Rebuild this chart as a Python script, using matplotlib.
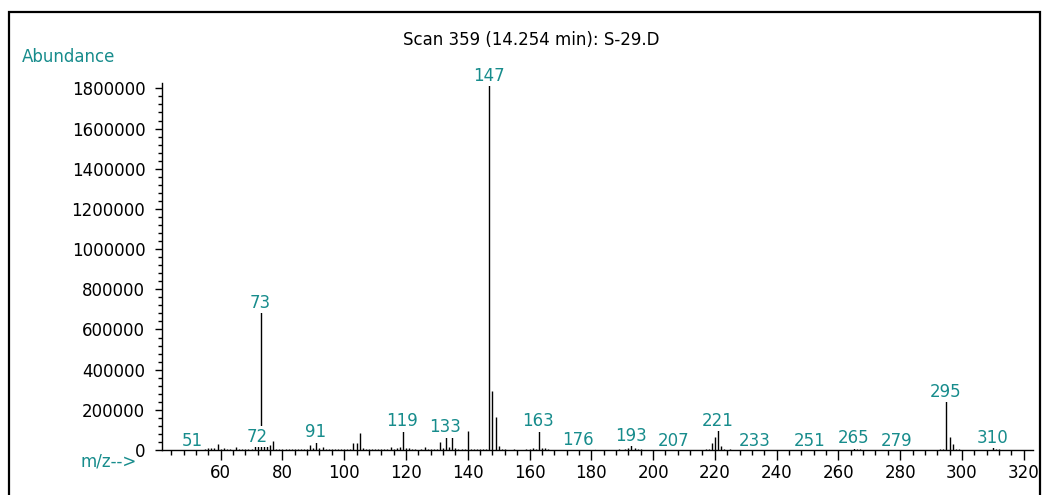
import matplotlib
matplotlib.use("Agg")
import matplotlib.pyplot as plt
from matplotlib.patches import Rectangle
from matplotlib.ticker import MultipleLocator

# Mass spectrum: m/z values and abundances
mz = [51, 55, 56, 57, 58, 59, 60, 61, 62, 63, 65, 66, 67, 68, 69, 70,
      71, 72, 73, 74, 75, 76, 77, 78, 79, 80, 81, 82, 83, 84, 85, 86, 87, 88,
      89, 90, 91, 92, 93, 94, 95, 96, 97, 98, 99, 100, 101, 102, 103, 104,
      105, 106, 107, 108, 109, 110, 111, 112, 113, 114, 115, 116, 117, 118,
      119, 120, 121, 122, 123, 124, 125, 126, 127, 128, 129, 130, 131, 132,
      133, 134, 135, 136, 137, 138, 139, 140, 141, 142, 143, 144, 145, 146,
      147, 148, 149, 150, 151, 152, 155, 159, 160, 161, 162, 163, 164, 165,
      166, 170, 175, 176, 177, 178, 179, 180, 181, 189, 190, 191, 192, 193,
      194, 195, 196, 197, 205, 207, 209, 217, 218, 219, 220, 221, 222, 223,
      225, 233, 251, 265, 266, 267, 279, 293, 294, 295, 296, 297, 298, 299,
      310, 311, 312]
abundance = [2000, 3000, 8000, 9000, 8000, 30000, 5000, 9000, 4000, 5000,
             16000, 5000, 6000, 3000, 5000, 4000,
             25000, 25000, 691000, 25000, 25000, 25000, 46000, 6000, 5000,
             4000, 3000, 4000, 5000, 3000, 4000, 3000, 5000, 4000,
             25000, 12000, 46000, 8000, 14000, 4000, 5000, 3000, 4000, 3000,
             3000, 4000, 5000, 6000, 33000, 36000,
             83000, 9000, 7000, 3000, 4000, 3000, 4000, 3000, 4000, 3000,
             13000, 4000, 10000, 16000,
             100000, 12000, 9000, 4000, 3000, 2000, 3000, 13000, 4000, 3000,
             6000, 4000, 38000, 8000,
             71000, 13000, 71000, 8000, 5000, 3000, 4000, 94000, 6000, 3000,
             3000, 4000, 3000, 5000,
             1820000, 293000, 162000, 20000, 6000, 3000, 3000, 3000, 4000,
             12000, 5000, 100000, 10000, 8000,
             3000, 2000, 4000, 8000, 6000, 5000, 6000, 4000, 5000, 3000, 2000,
             5000, 12000, 30000,
             8000, 4000, 5000, 2000, 2000, 3000, 2000, 3000, 4000, 33000,
             66000, 104000, 22000, 6000,
             4000, 2000, 2000, 16000, 5000, 3000, 2000, 5000, 3000, 249000,
             63000, 30000, 7000, 3000,
             20000, 6000, 3000]

labelled_mz = [51, 72, 73, 91, 119, 133, 147, 163, 176, 193, 207, 221, 233,
               251, 265, 279, 295, 310]

title = "Scan 359 (14.254 min): S-29.D"
y_label = "Abundance"
x_label = "m/z-->"

teal = "#178c8c"
fs = 12
plt.rcParams["font.family"] = ["DejaVu Sans"]

fig = plt.figure(figsize=(10.45, 4.95), dpi=100)
ax = fig.add_axes([0.155, 0.0909, 0.9885 - 0.155, 0.832 - 0.0909])

ax.vlines(mz, 0, abundance, colors="black", linewidth=1.0, zorder=1.5)

# peak labels sit on a white box above the stems but below the axis line
lookup = dict(zip(mz, abundance))
for m in labelled_mz:
    ax.annotate(str(m), xy=(m, lookup[m]), xytext=(-0.5, 2.5),
                textcoords="offset points", ha="center", va="baseline",
                color=teal, fontsize=fs, zorder=2.2,
                bbox=dict(boxstyle="square,pad=0.08", fc="white", ec="none"))

ax.set_xlim(41, 323)
ax.set_ylim(0, 1826000)

for side in ("top", "right"):
    ax.spines[side].set_visible(False)
for side in ("left", "bottom"):
    ax.spines[side].set_linewidth(1.0)
    ax.spines[side].set_zorder(3)

ax.xaxis.set_minor_locator(MultipleLocator(4))
ax.yaxis.set_minor_locator(MultipleLocator(40000))
ax.set_xticks(range(60, 321, 20))
ax.set_yticks(range(0, 1800001, 200000))
ax.set_yticklabels([str(v) for v in range(0, 1800001, 200000)])

ax.tick_params(axis="x", which="major", length=7, width=1, pad=3,
               labelsize=fs, direction="out")
ax.tick_params(axis="x", which="minor", length=3.5, width=1, direction="out")
ax.tick_params(axis="y", which="major", length=5, width=1, pad=7,
               labelsize=fs, direction="out")
ax.tick_params(axis="y", which="minor", length=3, width=1, direction="out")

fig.text(531 / 1045, 1 - 40 / 495, title, ha="center", va="center",
         fontsize=fs, color="black")
fig.text(22 / 1045, 1 - 57 / 495, y_label, ha="left", va="center",
         fontsize=fs, color=teal)
fig.text(137 / 1045, 1 - 462 / 495, x_label, ha="right", va="center",
         fontsize=fs, color=teal)

fig.patches.append(Rectangle((9 / 1045, -0.1), (1040 - 9) / 1045,
                             1.1 - 12 / 495, transform=fig.transFigure,
                             fill=False, edgecolor="black", linewidth=1.6))

fig.savefig("out.png", dpi=100)
